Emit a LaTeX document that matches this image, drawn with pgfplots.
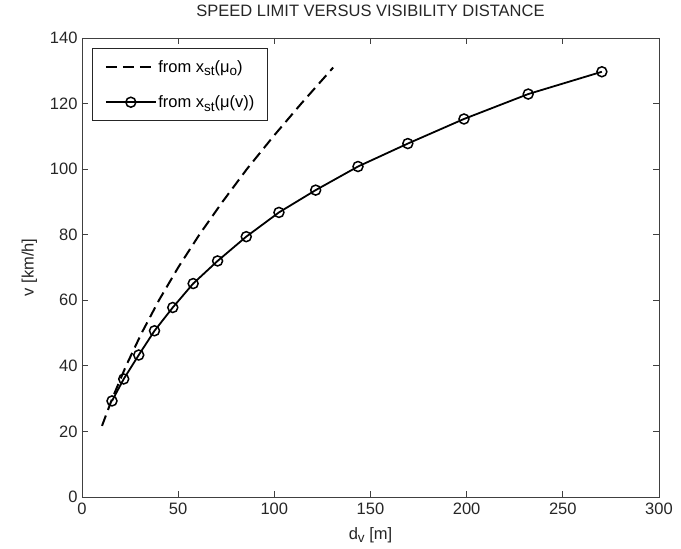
\documentclass[border=0pt]{standalone}
\usepackage{pgfplots}
\pgfplotsset{compat=1.18}
\usepackage{fontspec}
\setmainfont{Liberation Sans}
\newcommand{\sub}[1]{\raisebox{-0.45ex}{\fontsize{13.5}{14}\selectfont #1}}
\begin{document}
\begin{tikzpicture}
\useasboundingbox (-82pt,-52pt) rectangle (599pt,497pt);
\begin{axis}[
  at={(0,0)}, anchor=south west,
  scale only axis,
  width=577pt, height=459pt,
  xmin=0, xmax=300, ymin=0, ymax=140,
  xtick={0,50,...,300}, ytick={0,20,...,140},
  tick align=inside, xtick pos=both, ytick pos=both,
  major tick length=6pt,
  axis line style={black!75, line width=0.8pt},
  every tick/.style={black!75, line width=0.8pt},
  /pgf/number format/assume math mode=true,
  tick label style={font=\fontsize{16.5}{19}\selectfont, text=black!85},
  xticklabel style={yshift=-2pt},
  yticklabel style={xshift=-1pt},
  label style={font=\fontsize{16.5}{19}\selectfont, text=black!85},
  xlabel style={yshift=-6pt},
  ylabel style={yshift=6pt},
  title style={font=\fontsize{16.5}{19}\selectfont, text=black!85, yshift=12pt},
  title={SPEED LIMIT VERSUS VISIBILITY DISTANCE},
  xlabel={d\sub{v} [m]},
  ylabel={v [km/h]},
  legend style={at={(0.018,0.978)}, anchor=north west, draw=black!85, line width=0.9pt,
    font=\fontsize{16.5}{19}\selectfont, row sep=19pt, inner xsep=12pt, inner ysep=10pt,
    nodes={inner sep=1.5pt}},
  legend cell align=left,
  legend image code/.code={\draw[mark repeat=2,mark phase=2,#1] plot coordinates {(0pt,0pt) (25pt,0pt) (50pt,0pt)};},
]
\addplot[black, line width=2pt, dash pattern=on 11pt off 6pt] coordinates {
(10.4,21.7) (15.7,30) (22.9,40) (31,50) (40,60) (50,70) (61,80) (73,90) (85.7,100) (99.5,110) (114,120) (130.6,131)
};
\addlegendentry{from x\sub{st}(μ\sub{o})\hspace{3pt}}
\addplot[black, line width=1.8pt, mark=o, mark size=5pt, mark options={line width=1.5pt, solid}] coordinates {
(15.6,29.3) (21.7,36) (29.5,43.3) (37.7,50.7) (47.2,57.8) (57.8,65.1) (70.5,72.0) (85.4,79.4) (102.4,86.8) (121.5,93.6) (143.5,100.8) (169.4,107.8) (198.6,115.3) (232,122.9) (270.3,129.7)
};
\addlegendentry{from x\sub{st}(μ(v))\hspace{3pt}}
\end{axis}
\end{tikzpicture}
\end{document}
